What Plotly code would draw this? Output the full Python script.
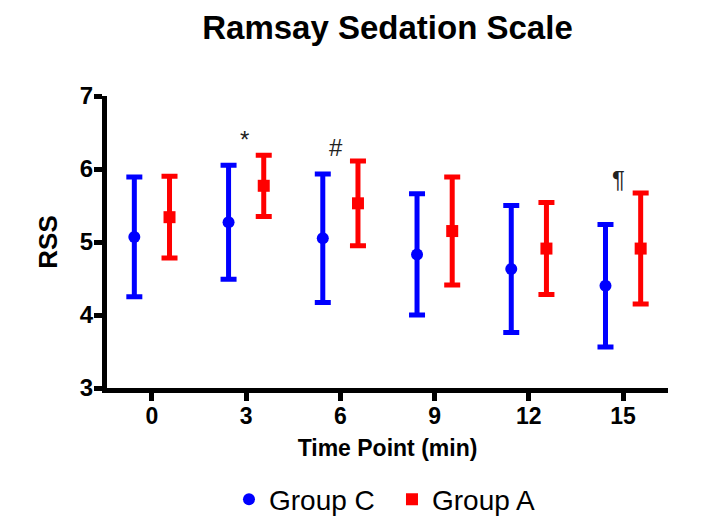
import plotly.graph_objects as go

time_points = [0, 3, 6, 9, 12, 15]
group_c_mean = [5.07, 5.27, 5.05, 4.83, 4.63, 4.40]
group_c_sd = [0.82, 0.78, 0.88, 0.83, 0.87, 0.84]
group_a_mean = [5.34, 5.77, 5.53, 5.15, 4.91, 4.91]
group_a_sd = [0.56, 0.42, 0.58, 0.74, 0.63, 0.76]
tick_labels = ["0", "3", "6", "9", "12", "15"]

marks = [("*", 2.95, 6.4), ("#", 5.86, 6.30), ("¶", 14.84, 5.86)]

offset = 0.56
FONT = "Liberation Sans, Arial, sans-serif"

fig = go.Figure()
fig.add_trace(go.Scatter(
    x=[t - offset for t in time_points], y=group_c_mean, mode="markers", name="Group C",
    marker=dict(symbol="circle", size=12, color="#0000FF"),
    error_y=dict(type="data", array=group_c_sd, color="#0000FF", thickness=5, width=8),
))
fig.add_trace(go.Scatter(
    x=[t + offset for t in time_points], y=group_a_mean, mode="markers", name="Group A",
    marker=dict(symbol="square", size=12, color="#FF0000"),
    error_y=dict(type="data", array=group_a_sd, color="#FF0000", thickness=5, width=8),
))

for txt, xx, yy in marks:
    fig.add_annotation(x=xx, y=yy, text=txt, showarrow=False,
                       font=dict(family=FONT, size=24, color="#222222"))

fig.update_layout(
    width=701, height=528,
    margin=dict(l=99, r=41, t=88, b=144, pad=0),
    paper_bgcolor="white", plot_bgcolor="white",
    title=dict(text="<b>Ramsay Sedation Scale</b>", x=0.5, xref="paper", xanchor="center",
               y=0.985, yref="container", yanchor="top",
               font=dict(family=FONT, size=33, color="black")),
    font=dict(family=FONT, color="black"),
    showlegend=True,
    legend=dict(orientation="h", x=0.508, xanchor="center", y=-0.382, yanchor="middle",
                font=dict(family=FONT, size=28, color="black"), itemwidth=30,
                entrywidth=118, entrywidthmode="pixels"),
    xaxis=dict(range=[-1.43, 16.43], tickvals=time_points, ticktext=[f"<b>{t}</b>" for t in tick_labels],
               showgrid=False, zeroline=False, showline=True, linecolor="black", linewidth=5,
               ticks="outside", ticklen=8, tickwidth=5, tickcolor="black", ticklabelstandoff=-5,
               tickfont=dict(family=FONT, size=23, color="black"),
               title=dict(text="<b>Time Point (min)</b>", font=dict(family=FONT, size=23, color="black"),
                          standoff=14)),
    yaxis=dict(range=[3, 7], tickvals=[3, 4, 5, 6, 7], ticktext=["<b>3</b>", "<b>4</b>", "<b>5</b>", "<b>6</b>", "<b>7</b>"],
               showgrid=False, zeroline=False, showline=True, linecolor="black", linewidth=5,
               ticks="outside", ticklen=8, tickwidth=5, tickcolor="black", ticklabelstandoff=-4,
               tickfont=dict(family=FONT, size=24, color="black"),
               title=dict(text="<b>RSS</b>", font=dict(family=FONT, size=26, color="black"), standoff=16)),
)

fig.write_html("out.html")
